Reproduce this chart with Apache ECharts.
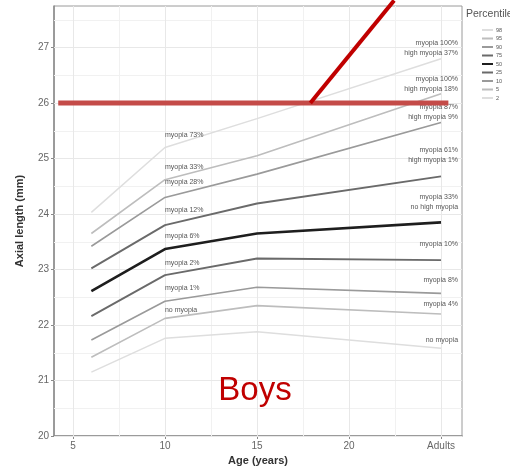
<!DOCTYPE html>
<html>
<head>
<meta charset="utf-8">
<script src="https://cdn.jsdelivr.net/npm/echarts@6/dist/echarts.min.js"></script>
<style>
html,body{margin:0;padding:0;background:#fff;}
#chart{width:510px;height:473px;}
</style>
</head>
<body>
<div id="chart"></div>
<script>
// ---- data ----
const ages = [6, 10, 15, 25];
const percentiles = ['98', '95', '90', '75', '50', '25', '10', '5', '2'];
const p98 = [24.03, 25.20, 25.72, 26.80];
const p95 = [23.65, 24.62, 25.05, 26.17];
const p90 = [23.42, 24.30, 24.72, 25.65];
const p75 = [23.02, 23.80, 24.19, 24.68];
const p50 = [22.61, 23.37, 23.65, 23.85];
const p25 = [22.16, 22.90, 23.20, 23.17];
const p10 = [21.73, 22.43, 22.68, 22.57];
const p5  = [21.42, 22.12, 22.35, 22.20];
const p2  = [21.15, 21.76, 21.88, 21.58];
const labelsAge10 = ['myopia 73%', 'myopia 33%', 'myopia 28%', 'myopia 12%', 'myopia 6%', 'myopia 2%', 'myopia 1%', 'no myopia', ''];
const labelsAdult = ['myopia 100%\nhigh myopia 37%', 'myopia 100%\nhigh myopia 18%', 'myopia 87%\nhigh myopia 9%', 'myopia 61%\nhigh myopia 1%', 'myopia 33%\nno high myopia', 'myopia 10%', 'myopia 8%', 'myopia 4%', 'no myopia'];
const xTickValues = [5, 10, 15, 20, 25];
const xTickLabels = ['5', '10', '15', '20', 'Adults'];
const yTickValues = [20, 21, 22, 23, 24, 25, 26, 27];
const xMinorGrid = [7.5, 12.5, 17.5, 22.5];
const yMinorGrid = [20.5, 21.5, 22.5, 23.5, 24.5, 25.5, 26.5, 27.5];
const highlightValue = 26;

// ---- styles ----
const allValues = [p98, p95, p90, p75, p50, p25, p10, p5, p2];
const lineColors = ['#dedede', '#bdbdbd', '#9a9a9a', '#6a6a6a', '#1e1e1e', '#6a6a6a', '#9a9a9a', '#bdbdbd', '#dedede'];
const lineWidths = [1.5, 1.6, 1.6, 1.9, 2.6, 1.9, 1.6, 1.6, 1.5];
const lift10 = [-12, -13, -15, -15, -13, -12, -13, -8, 0];
const liftAdult = [-11, -10, -10, -21, -20, -16, -13, -10, -8];
const FONT = 'Liberation Sans, Arial, sans-serif';

const chart = echarts.init(document.getElementById('chart'), null, {renderer: 'canvas'});

const series = [];
function gridSeries(lines, color) {
  return {
    type: 'line', name: '_grid', data: [], z: 1, silent: true,
    markLine: {
      silent: true, symbol: ['none', 'none'], animation: false, z: 1,
      label: {show: false},
      lineStyle: {color: color, width: 1, type: 'solid'},
      emphasis: {disabled: true},
      data: lines
    }
  };
}
const majorLines = [], minorLines = [];
xTickValues.forEach(v => majorLines.push({xAxis: v}));
yTickValues.forEach(v => majorLines.push({yAxis: v}));
xMinorGrid.forEach(v => minorLines.push({xAxis: v}));
yMinorGrid.forEach(v => minorLines.push({yAxis: v}));
series.push(gridSeries(minorLines, '#f1f1f1'));
series.push(gridSeries(majorLines, '#e8e8e8'));

percentiles.forEach((p, k) => {
  const vals = allValues[k];
  const data = ages.map((a, i) => {
    const item = {value: [a, vals[i]]};
    if (i === 1 && labelsAge10[k]) {
      item.label = {show: true, position: 'right', distance: 0, offset: [0, lift10[k]],
        formatter: labelsAge10[k], align: 'left', verticalAlign: 'middle',
        fontSize: 7, color: '#555', fontFamily: FONT};
    }
    if (i === 3) {
      item.label = {show: true, position: 'left', distance: 0, offset: [17, liftAdult[k]],
        formatter: labelsAdult[k], align: 'right', verticalAlign: 'middle',
        fontSize: 7, lineHeight: 10, color: '#555', fontFamily: FONT};
    }
    return item;
  });
  series.push({
    type: 'line', name: p, data: data, z: 3,
    symbol: 'circle', symbolSize: 0, showSymbol: true,
    lineStyle: {color: lineColors[k], width: lineWidths[k]},
    itemStyle: {color: lineColors[k]},
    emphasis: {disabled: true},
    animation: false
  });
});

const option = {
  backgroundColor: '#ffffff',
  animation: false,
  textStyle: {fontFamily: FONT},
  grid: {left: 54, right: 48, top: 6, bottom: 37, show: true, borderColor: '#9a9a9a', borderWidth: 1, backgroundColor: 'transparent'},
  xAxis: {
    type: 'value', min: 3.97, max: 26.14,
    name: 'Age (years)', nameLocation: 'middle', nameGap: 19,
    nameTextStyle: {fontSize: 11, fontWeight: 'bold', color: '#333', fontFamily: FONT},
    axisLine: {show: true, onZero: false, lineStyle: {color: '#8a8a8a', width: 1.5}},
    axisTick: {show: true, length: 3, customValues: xTickValues, lineStyle: {color: '#8a8a8a'}},
    axisLabel: {customValues: xTickValues, fontSize: 10, color: '#666', margin: 5,
      formatter: v => { const i = xTickValues.indexOf(v); return i >= 0 ? xTickLabels[i] : ''; }},
    splitLine: {show: false}
  },
  yAxis: {
    type: 'value', min: 20, max: 27.75,
    name: 'Axial length (mm)', nameLocation: 'middle', nameGap: 29,
    nameTextStyle: {fontSize: 11, fontWeight: 'bold', color: '#333', fontFamily: FONT},
    axisLine: {show: true, onZero: false, lineStyle: {color: '#8a8a8a', width: 1.5}},
    axisTick: {show: true, length: 3, customValues: yTickValues, lineStyle: {color: '#8a8a8a'}},
    axisLabel: {customValues: yTickValues, fontSize: 10, color: '#666', margin: 5,
      formatter: v => (yTickValues.indexOf(v) >= 0 ? String(v) : '')},
    splitLine: {show: false}
  },
  legend: {
    data: percentiles, orient: 'vertical', left: 482, top: 27,
    icon: 'rect', itemWidth: 11, itemHeight: 2, itemGap: 2.5,
    textStyle: {fontSize: 5.5, color: '#555', fontFamily: FONT, padding: [0, 0, 0, -2]},
    selectedMode: false, padding: 0
  },
  series: series
};
chart.setOption(option);

// annotations placed through the chart's scales
const hl0 = chart.convertToPixel({gridIndex: 0}, [4.2, highlightValue]);
const hl1 = chart.convertToPixel({gridIndex: 0}, [25.4, highlightValue]);
const dg0 = chart.convertToPixel({gridIndex: 0}, [17.9, highlightValue]);
const dg1 = chart.convertToPixel({gridIndex: 0}, [22.45, 27.85]);
chart.setOption({
  graphic: [
    {type: 'text', left: 466, top: 9, z: 10,
      style: {text: 'Percentile', fontSize: 10.5, fill: '#555', fontFamily: FONT}},
    {type: 'line', z: 20, shape: {x1: hl0[0], y1: hl0[1], x2: hl1[0], y2: hl1[1]},
      style: {stroke: '#c44b48', lineWidth: 5}},
    {type: 'line', z: 21, shape: {x1: dg0[0], y1: dg0[1], x2: dg1[0], y2: dg1[1]},
      style: {stroke: '#c00000', lineWidth: 4}},
    {type: 'text', x: 255, y: 391, z: 20,
      style: {text: 'Boys', fontSize: 33, fill: '#c00000', fontFamily: FONT, align: 'center', verticalAlign: 'middle'}}
  ]
});
</script>
</body>
</html>
